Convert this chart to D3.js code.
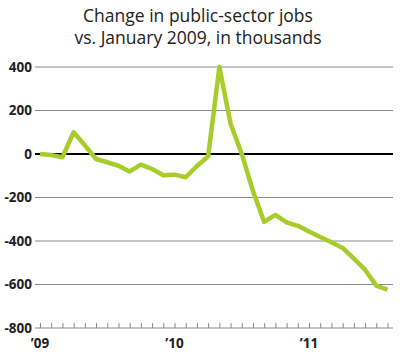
<!DOCTYPE html>
<html>
<head>
<meta charset="utf-8">
<script src="https://cdn.jsdelivr.net/npm/d3@7"></script>
<style>
  body { margin: 0; background: #fff; }
  text { font-family: "Open Sans", sans-serif; }
</style>
</head>
<body>
<div id="chart"></div>
<script>
// monthly change in public-sector jobs vs Jan 2009, Jan 2009 .. Aug 2011
const months = d3.range(32)
const values = [0, -5, -15, 100, 40, -23, -38, -54, -80, -49, -69, -98, -95, -107, -55, -11,
    400, 140, 0, -170, -312, -280, -314, -330, -356, -382, -406, -432, -481, -532, -605, -624]
const yTicks = [400, 200, 0, -200, -400, -600, -800]
const yearLabels = [{i: 0, label: "\u201909"}, {i: 12, label: "\u201910"}, {i: 24, label: "\u201911"}]

const width = 400
const height = 358

const svg = d3.select("#chart")
    .append("svg")
    .attr("width", width)
    .attr("height", height)

const x = d3.scaleLinear().domain([0, 31]).range([40, 387.5])
const y = d3.scaleLinear().domain([-800, 400]).range([328, 67])

// title
svg.append("text")
    .attr("x", 198).attr("y", 22)
    .attr("text-anchor", "middle")
    .attr("font-size", 17.5)
    .attr("fill", "#222")
    .text("Change in public-sector jobs")
svg.append("text")
    .attr("x", 198).attr("y", 44)
    .attr("text-anchor", "middle")
    .attr("font-size", 17.5)
    .attr("fill", "#222")
    .text("vs. January 2009, in thousands")

// grid lines
svg.selectAll(".grid")
    .data(yTicks.filter(d => d !== 0 && d !== -800))
    .enter().append("line")
    .attr("class", "grid")
    .attr("x1", 35).attr("x2", 393)
    .attr("y1", d => y(d)).attr("y2", d => y(d))
    .attr("stroke", "#8a8a8a")
    .attr("stroke-width", 1.2)

// y labels
svg.selectAll(".ylab")
    .data(yTicks)
    .enter().append("text")
    .attr("class", "ylab")
    .attr("x", 32)
    .attr("y", d => y(d))
    .attr("dy", "0.36em")
    .attr("text-anchor", "end")
    .attr("font-size", 13.5)
    .attr("font-weight", "bold")
    .attr("fill", "#222")
    .text(d => d)

// bottom axis with month ticks
const xAxis = svg.append("g")
    .attr("transform", `translate(0,${y(-800)})`)
    .call(d3.axisTop(x).tickValues(months).tickSize(5).tickFormat(""))
xAxis.select(".domain").remove()
xAxis.selectAll(".tick line").attr("stroke", "#888")
xAxis.append("line")
    .attr("x1", 35).attr("x2", 393)
    .attr("stroke", "#8a8a8a")
    .attr("stroke-width", 1.2)

svg.selectAll(".xlab")
    .data(yearLabels)
    .enter().append("text")
    .attr("class", "xlab")
    .attr("x", d => x(d.i))
    .attr("y", 348)
    .attr("text-anchor", "middle")
    .attr("font-size", 13.5)
    .attr("font-weight", "bold")
    .attr("fill", "#222")
    .text(d => d.label)

// zero line
svg.append("line")
    .attr("x1", 35).attr("x2", 393)
    .attr("y1", y(0)).attr("y2", y(0))
    .attr("stroke", "#000")
    .attr("stroke-width", 2)

// data line
const line = d3.line()
    .x((d, i) => x(i))
    .y(d => y(d))

svg.append("path")
    .datum(values)
    .attr("d", line)
    .attr("fill", "none")
    .attr("stroke", "#a8cc2c")
    .attr("stroke-width", 4.5)
    .attr("stroke-linejoin", "round")
</script>
</body>
</html>
